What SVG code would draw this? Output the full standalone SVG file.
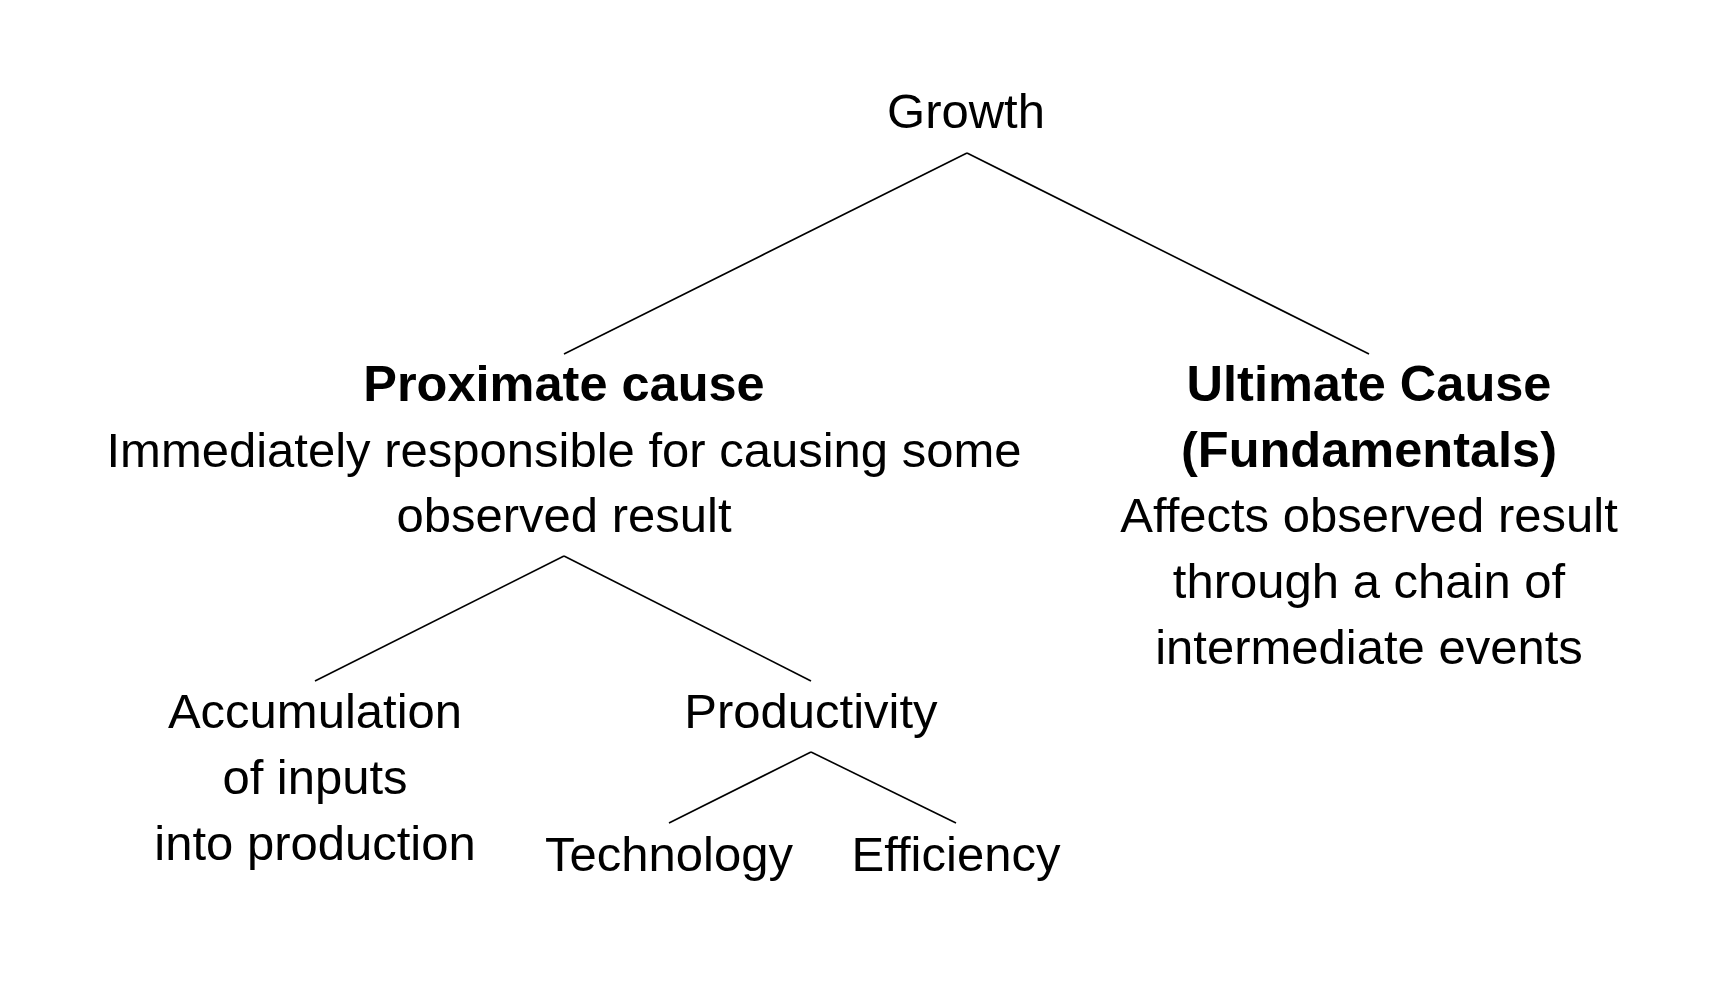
<svg xmlns="http://www.w3.org/2000/svg" width="1717" height="989" viewBox="0 0 1717 989">
<style>
text{font-family:"Liberation Sans",Arial,sans-serif;font-size:49px;fill:#000;text-anchor:middle}
.b{font-weight:bold;font-size:50.5px}
.e{stroke:#000;stroke-width:1.6;fill:none}
</style>
<rect width="1717" height="989" fill="#fff"/>
<g id="connectors">
<line class="e" x1="967" y1="153" x2="564" y2="354"/>
<line class="e" x1="967" y1="153" x2="1369" y2="354"/>
<line class="e" x1="564" y1="556" x2="315" y2="681"/>
<line class="e" x1="564" y1="556" x2="811" y2="681"/>
<line class="e" x1="811" y1="752" x2="669" y2="823"/>
<line class="e" x1="811" y1="752" x2="956" y2="823"/>
</g>
<g id="growth"><text x="966" y="128">Growth</text></g>
<g id="proximate">
<text class="b" x="564" y="401">Proximate cause</text>
<text x="564" y="467">Immediately responsible for causing some</text>
<text x="564" y="532">observed result</text>
</g>
<g id="ultimate">
<text class="b" x="1369" y="401">Ultimate Cause</text>
<text class="b" x="1369" y="467">(Fundamentals)</text>
<text x="1369" y="532">Affects observed result</text>
<text x="1369" y="598">through a chain of</text>
<text x="1369" y="664">intermediate events</text>
</g>
<g id="accumulation">
<text x="315" y="728">Accumulation</text>
<text x="315" y="794">of inputs</text>
<text x="315" y="860">into production</text>
</g>
<g id="productivity"><text x="811" y="728">Productivity</text></g>
<g id="technology"><text x="669" y="871">Technology</text></g>
<g id="efficiency"><text x="956" y="871">Efficiency</text></g>
</svg>
